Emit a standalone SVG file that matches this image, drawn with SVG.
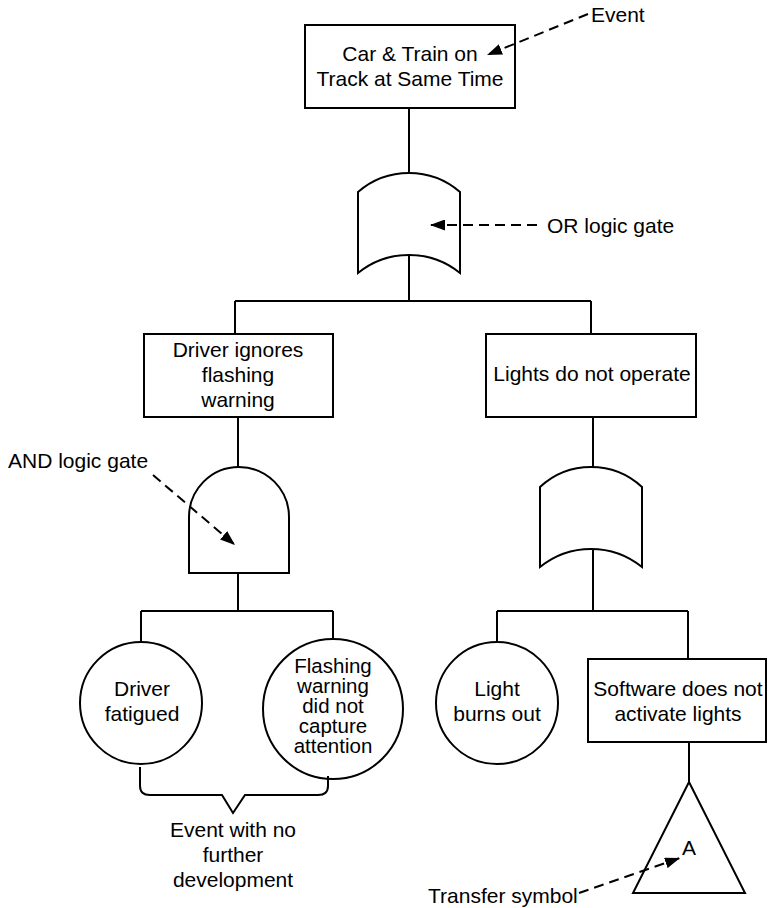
<svg xmlns="http://www.w3.org/2000/svg" width="769" height="908" viewBox="0 0 769 908">
  <style>
    .shape { fill: #fff; stroke: #000; stroke-width: 2; }
    .wire { fill: none; stroke: #000; stroke-width: 2; }
    .lead { fill: none; stroke: #000; stroke-width: 2; stroke-dasharray: 10 6; }
    text { font-family: "Liberation Sans", Arial, sans-serif; font-size: 21px; fill: #000; text-anchor: middle; }
    .tight { font-size: 20.5px; }
    .left { text-anchor: start; }
  </style>
  <defs>
    <marker id="tip" markerUnits="userSpaceOnUse" markerWidth="16" markerHeight="11" refX="15" refY="5.5" orient="auto">
      <path d="M0,0 L15,5.5 L0,11 z" fill="#000"/>
    </marker>
  </defs>

  <!-- tree connectors -->
  <g id="connectors" class="wire">
    <path d="M409,108 V173"/>
    <path d="M409,255 V301 M235,301 H591 M235,301 V334 M591,301 V334"/>
    <path d="M238,417 V467"/>
    <path d="M238,573 V611 M141,611 H333 M141,611 V642 M333,611 V640"/>
    <path d="M593,417 V467"/>
    <path d="M593,549 V611 M497,611 H688 M497,611 V642 M688,611 V659"/>
    <path d="M689,742 V782"/>
  </g>

  <g id="top-event">
    <rect class="shape" x="305" y="25" width="210" height="83"/>
    <text x="410" y="61">Car &amp; Train on</text>
    <text x="410" y="86">Track at Same Time</text>
  </g>

  <g id="or-gate-top">
    <path class="shape" d="M358,192 A78,78 0 0 1 460,192 V273 A81,81 0 0 0 358,273 Z"/>
  </g>

  <g id="driver-ignores">
    <rect class="shape" x="144" y="334" width="189" height="83"/>
    <text x="238" y="357">Driver ignores</text>
    <text x="238" y="382">flashing</text>
    <text x="238" y="407">warning</text>
  </g>

  <g id="lights-fail">
    <rect class="shape" x="486" y="334" width="210" height="83"/>
    <text x="592" y="381">Lights do not operate</text>
  </g>

  <g id="and-gate">
    <path class="shape" d="M189,573 V517 A50,50 0 0 1 289,517 V573 Z"/>
  </g>

  <g id="or-gate-lights">
    <path class="shape" d="M540,487 A75,75 0 0 1 642,487 V567 A81,81 0 0 0 540,567 Z"/>
  </g>

  <g id="driver-fatigued">
    <circle class="shape" cx="141" cy="703" r="61"/>
    <text x="142" y="696">Driver</text>
    <text x="142" y="721">fatigued</text>
  </g>

  <g id="warning-missed">
    <circle class="shape" cx="333" cy="709" r="70"/>
    <text class="tight" x="333" y="673">Flashing</text>
    <text class="tight" x="333" y="693">warning</text>
    <text class="tight" x="333" y="713">did not</text>
    <text class="tight" x="333" y="733">capture</text>
    <text class="tight" x="333" y="753">attention</text>
  </g>

  <g id="light-burns-out">
    <circle class="shape" cx="497" cy="703" r="61"/>
    <text x="497" y="696">Light</text>
    <text x="497" y="721">burns out</text>
  </g>

  <g id="software-fault">
    <rect class="shape" x="588" y="659" width="178" height="83"/>
    <text x="678" y="696">Software does not</text>
    <text x="678" y="721">activate lights</text>
  </g>

  <g id="transfer-a">
    <path class="shape" d="M689,782 L745,893 H633 Z"/>
    <text x="689" y="855">A</text>
  </g>

  <!-- brace grouping the undeveloped events -->
  <g id="undeveloped-note">
    <path class="wire" d="M140,767 V786 Q140,795 150,795 H222 L233,813 L245,795 H318 Q328,795 328,786 V776"/>
    <text x="233" y="837">Event with no</text>
    <text x="233" y="862">further</text>
    <text x="233" y="887">development</text>
  </g>

  <!-- legend callouts -->
  <g id="callouts">
    <path class="lead" d="M588,14 L487,55" marker-end="url(#tip)"/>
    <text class="left" x="591" y="22">Event</text>
    <path class="lead" d="M537,225 H430" marker-end="url(#tip)"/>
    <text class="left" x="547" y="233">OR logic gate</text>
    <path class="lead" d="M153,475 L235,545" marker-end="url(#tip)"/>
    <text class="left" x="8" y="468">AND logic gate</text>
    <path class="lead" d="M579,893 L680,858" marker-end="url(#tip)"/>
    <text class="left" x="428" y="903">Transfer symbol</text>
  </g>
</svg>
